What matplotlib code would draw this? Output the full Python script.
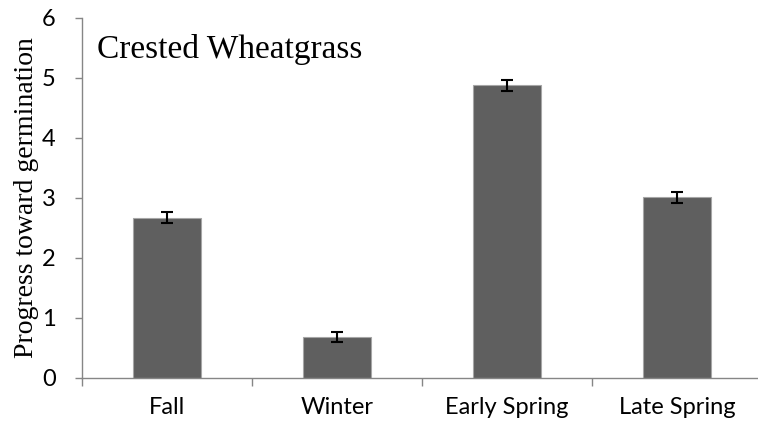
import matplotlib
matplotlib.use("Agg")
import matplotlib.pyplot as plt
from matplotlib import font_manager

# data
seasons = ["Fall", "Winter", "Early Spring", "Late Spring"]
progress = [2.67, 0.68, 4.88, 3.01]
errors = [0.09, 0.08, 0.095, 0.09]
y_ticks = [0, 1, 2, 3, 4, 5, 6]

installed = {f.name for f in font_manager.fontManager.ttflist}
sans = "Liberation Sans Narrow" if "Liberation Sans Narrow" in installed else "Lato"

fig = plt.figure(figsize=(7.58, 4.33), dpi=100)
ax = fig.add_axes([82 / 758, 55 / 433, 680 / 758, 360 / 433])

x = list(range(len(seasons)))
ax.bar(x, progress, width=0.4, color="#5f5f5f", edgecolor="#a6a6a6", linewidth=0.8, zorder=2)
ax.errorbar(x, progress, yerr=errors, fmt="none", ecolor="black",
            elinewidth=1.5, capsize=4.5, capthick=1.5, zorder=3)

ax.set_xlim(-0.5, 3.5)
ax.set_ylim(0, 6)
ax.set_yticks(y_ticks)
ax.set_yticklabels([str(v) for v in y_ticks], fontsize=17, fontfamily=sans)
ax.set_xticks(x)
ax.set_xticklabels(seasons, fontsize=17, fontfamily=sans)
ax.set_xticks([i - 0.5 for i in range(len(seasons) + 1)], minor=True)
ax.tick_params(axis="x", which="major", length=0, pad=14)
ax.tick_params(axis="x", which="minor", length=6, color="#868686", width=1)
ax.tick_params(axis="y", length=5, color="#868686", width=1, pad=14)

for side in ["top", "right"]:
    ax.spines[side].set_visible(False)
for side in ["left", "bottom"]:
    ax.spines[side].set_color("#868686")
    ax.spines[side].set_linewidth(1)

ax.set_ylabel("Progress toward germination", fontsize=20,
              fontfamily="Liberation Serif", labelpad=2)
fig.text(97 / 758, 1 - 58 / 433, "Crested Wheatgrass", fontsize=24,
         fontfamily="Liberation Serif", va="baseline", ha="left")

fig.savefig("out.png", dpi=100)
